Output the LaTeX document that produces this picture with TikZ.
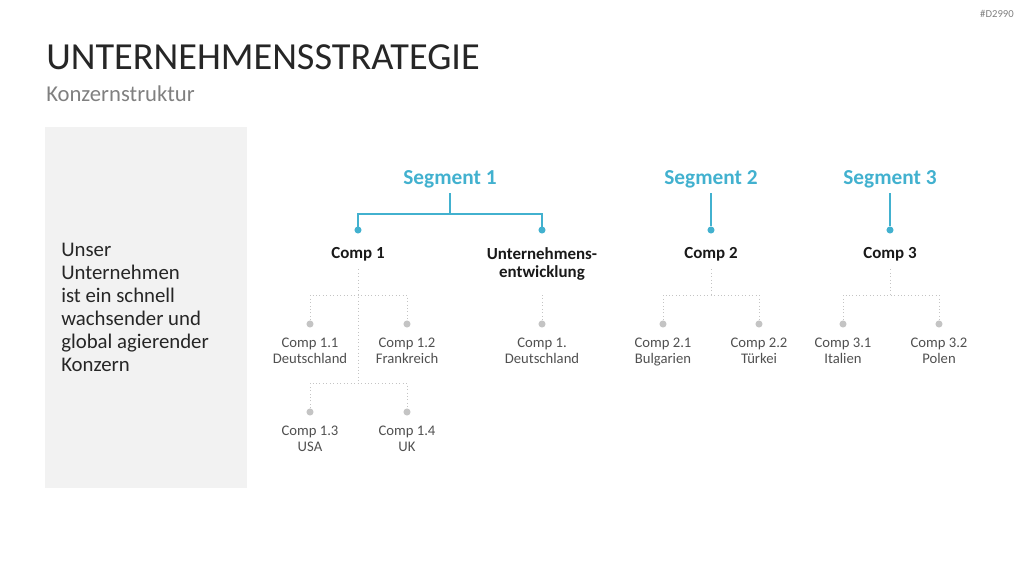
\documentclass[tikz,border=0pt]{standalone}
\usepackage{fontspec}
\setmainfont{Carlito}
\usetikzlibrary{positioning}
\definecolor{segblue}{RGB}{66,177,207}
\definecolor{dotgray}{RGB}{196,196,196}
\definecolor{boxgray}{RGB}{242,242,242}
\definecolor{txtgray}{RGB}{80,80,80}
\definecolor{subgray}{RGB}{128,128,128}

\begin{document}
\begin{tikzpicture}[
        x=0.75pt, y=-0.75pt,
        node distance=7.5pt,
        seg/.style={inner sep=0, font=\fontsize{16}{19}\selectfont\bfseries, text=segblue},
        comp/.style={inner sep=0, font=\fontsize{12.7}{13.5}\selectfont\bfseries, align=center, text=black!90},
        sub/.style={inner sep=0, font=\fontsize{11}{12}\selectfont, align=center, text=txtgray},
        bdot/.style={circle, fill=segblue, inner sep=0, minimum size=5.3pt},
        gdot/.style={circle, fill=dotgray, inner sep=0, minimum size=5.3pt},
        bline/.style={draw=segblue, line width=1.1pt},
        gline/.style={draw=dotgray, line width=0.6pt, dotted}
    ]
        \useasboundingbox (0,0) rectangle (1024,576);

        % header
        \node[anchor=base west, inner sep=0, font=\fontsize{28.7}{32}\selectfont, text=black!85] (title) at (46,69) {UNTERNEHMENSSTRATEGIE};
        \node[anchor=base west, inner sep=0, font=\fontsize{17}{20}\selectfont, text=subgray] (subtitle) at (46,101) {Konzernstruktur};
        \node[anchor=east, inner sep=0, font=\fontsize{8}{9}\selectfont, text=subgray] (tag) at (1014,14) {\#D2990};

        % left panel
        \node[anchor=north west, fill=boxgray, inner sep=0, minimum width=151.5pt, minimum height=270.75pt] (panel) at (45,127) {};
        \node[anchor=west, inner sep=0, align=left, font=\fontsize{15.6}{17.25}\selectfont, text=black!85] (claim) at (61,307)
            {Unser\\Unternehmen\\ist ein schnell\\wachsender und\\global agierender\\Konzern};

        % segments
        \node[seg] (seg1) at (450,179) {Segment 1};
        \node[seg] (seg2) at (711,179) {Segment 2};
        \node[seg] (seg3) at (890,179) {Segment 3};

        \node[bdot] (b1) at (358,230) {};
        \node[bdot] (b2) at (542,230) {};
        \node[bdot] (b3) at (711,230) {};
        \node[bdot] (b4) at (890,230) {};

        \coordinate (s1) at (450,214);
        \draw[bline, shorten <=4pt] (seg1) -- (s1);
        \draw[bline] (b1.center) |- (s1) -| (b2.center);
        \draw[bline, shorten <=4pt] (seg2) -- (b3);
        \draw[bline, shorten <=4pt] (seg3) -- (b4);

        % companies
        \node[comp, below=10pt of b1] (c1) {Comp 1};
        \node[comp, below=10pt of b2] (c1e) {Unternehmens-\\entwicklung};
        \node[comp, below=10pt of b3] (c2) {Comp 2};
        \node[comp, below=10pt of b4] (c3) {Comp 3};

        % subsidiaries
        \node[gdot] (g11) at (310,324) {};
        \node[gdot] (g12) at (407,324) {};
        \node[gdot] (g13) at (310,412) {};
        \node[gdot] (g14) at (407,412) {};
        \node[gdot] (g1e) at (542,324) {};
        \node[gdot] (g21) at (663,324) {};
        \node[gdot] (g22) at (759,324) {};
        \node[gdot] (g31) at (843,324) {};
        \node[gdot] (g32) at (939,324) {};

        \node[sub, below=of g11] (l11) {Comp 1.1\\Deutschland};
        \node[sub, below=of g12] (l12) {Comp 1.2\\Frankreich};
        \node[sub, below=of g13] (l13) {Comp 1.3\\USA};
        \node[sub, below=of g14] (l14) {Comp 1.4\\UK};
        \node[sub, below=of g1e] (l1e) {Comp 1.\\Deutschland};
        \node[sub, below=of g21] (l21) {Comp 2.1\\Bulgarien};
        \node[sub, below=of g22] (l22) {Comp 2.2\\Türkei};
        \node[sub, below=of g31] (l31) {Comp 3.1\\Italien};
        \node[sub, below=of g32] (l32) {Comp 3.2\\Polen};

        \coordinate (k1) at (358,295);
        \coordinate (k1b) at (358,383);
        \coordinate (ke) at (542,295);
        \coordinate (k2) at (711,295);
        \coordinate (k3) at (890,295);

        \draw[gline, shorten <=6pt] (c1) -- (k1b);
        \draw[gline] (g11) |- (k1) -| (g12);
        \draw[gline] (g13) |- (k1b) -| (g14);
        \draw[gline] (ke) -- (g1e);
        \draw[gline, shorten <=6pt] (c2) -- (k2);
        \draw[gline] (g21) |- (k2) -| (g22);
        \draw[gline, shorten <=6pt] (c3) -- (k3);
        \draw[gline] (g31) |- (k3) -| (g32);
    \end{tikzpicture}
\end{document}
